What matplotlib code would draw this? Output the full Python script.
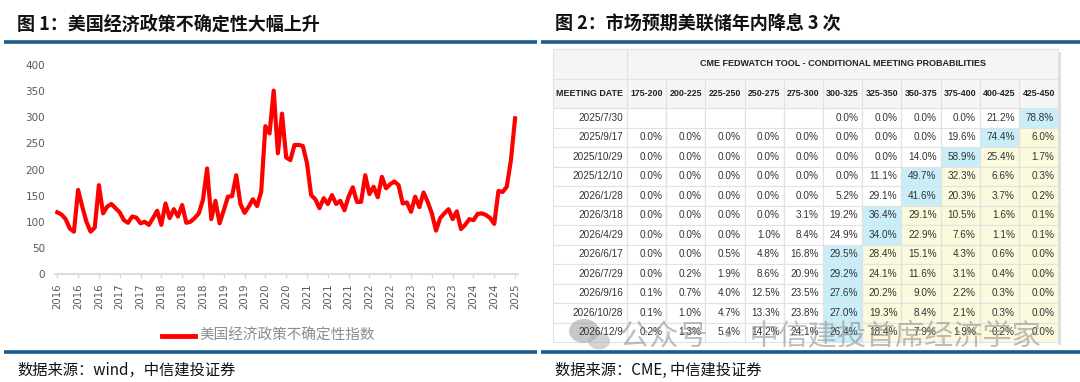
import numpy as np
import pandas as pd
import matplotlib
matplotlib.use("Agg")
import matplotlib.pyplot as plt
from matplotlib.patches import Rectangle, Ellipse

plt.rcParams['font.family'] = ['Noto Sans CJK SC', 'DejaVu Sans']

# US economic policy uncertainty index, monthly from 2016-01
epu_values = [118, 114, 105, 87, 81, 161, 129, 100, 81, 89,
              170, 116, 129, 134, 126, 118, 103, 98, 110, 108,
              97, 100, 94, 107, 121, 94, 135, 107, 124, 110,
              132, 98, 100, 107, 116, 142, 202, 105, 140, 97,
              122, 148, 149, 189, 134, 117, 129, 143, 130, 158,
              283, 269, 351, 231, 307, 223, 218, 247, 247, 245,
              212, 151, 143, 126, 145, 134, 151, 134, 140, 122,
              148, 166, 138, 138, 189, 153, 167, 147, 186, 164,
              172, 177, 170, 135, 137, 119, 148, 128, 156, 138,
              116, 83, 107, 116, 124, 105, 120, 86, 94, 105,
              103, 115, 116, 113, 107, 96, 159, 157, 167, 218,
              298]
epu_label = "美国经济政策不确定性指数"

# CME FedWatch conditional meeting probabilities (%)
meeting_dates = ["2025/7/30", "2025/9/17", "2025/10/29", "2025/12/10", "2026/1/28",
                 "2026/3/18", "2026/4/29", "2026/6/17", "2026/7/29", "2026/9/16",
                 "2026/10/28", "2026/12/9"]
rate_ranges = ["175-200", "200-225", "225-250", "250-275", "275-300", "300-325",
               "325-350", "350-375", "375-400", "400-425", "425-450"]
N = None
probabilities = [
    [N, N, N, N, N, 0.0, 0.0, 0.0, 0.0, 21.2, 78.8],
    [0.0, 0.0, 0.0, 0.0, 0.0, 0.0, 0.0, 0.0, 19.6, 74.4, 6.0],
    [0.0, 0.0, 0.0, 0.0, 0.0, 0.0, 0.0, 14.0, 58.9, 25.4, 1.7],
    [0.0, 0.0, 0.0, 0.0, 0.0, 0.0, 11.1, 49.7, 32.3, 6.6, 0.3],
    [0.0, 0.0, 0.0, 0.0, 0.0, 5.2, 29.1, 41.6, 20.3, 3.7, 0.2],
    [0.0, 0.0, 0.0, 0.0, 3.1, 19.2, 36.4, 29.1, 10.5, 1.6, 0.1],
    [0.0, 0.0, 0.0, 1.0, 8.4, 24.9, 34.0, 22.9, 7.6, 1.1, 0.1],
    [0.0, 0.0, 0.5, 4.8, 16.8, 29.5, 28.4, 15.1, 4.3, 0.6, 0.0],
    [0.0, 0.2, 1.9, 8.6, 20.9, 29.2, 24.1, 11.6, 3.1, 0.4, 0.0],
    [0.1, 0.7, 4.0, 12.5, 23.5, 27.6, 20.2, 9.0, 2.2, 0.3, 0.0],
    [0.1, 1.0, 4.7, 13.3, 23.8, 27.0, 19.3, 8.4, 2.1, 0.3, 0.0],
    [0.2, 1.3, 5.4, 14.2, 24.1, 26.4, 18.4, 7.9, 1.9, 0.2, 0.0],
]

W, H = 1080, 382
BLUE = '#1b5a8a'
fig = plt.figure(figsize=(W / 100, H / 100), dpi=100)

# overlay in pixel coordinates for titles, rules and the table
ov = fig.add_axes([0, 0, 1, 1])
ov.set_xlim(0, W)
ov.set_ylim(H, 0)
ov.axis('off')

# ---- left: EPU line chart ----
dates = pd.date_range("2016-01-01", periods=len(epu_values), freq="MS")
x = np.arange(len(epu_values))
ax = fig.add_axes([55 / W, (H - 274) / H, 463 / W, 209 / H])
ax.patch.set_visible(False)
ax.plot(x, epu_values, color='#ff0000', lw=3, solid_joinstyle='round')
ax.set_xlim(-0.55, len(x) - 1 + 0.7)
ax.set_ylim(0, 400)
ax.set_yticks(np.arange(0, 401, 50))
ticks = x[::5]
ax.set_xticks(ticks)
ax.set_xticklabels([str(d.year) for d in dates[::5]], rotation=90,
                   fontsize=7.3, color='#595959', family='DejaVu Sans')
for lab in ax.get_yticklabels():
    lab.set_fontsize(7.5)
    lab.set_color('#595959')
    lab.set_family('DejaVu Sans')
for s in ['top', 'right', 'left']:
    ax.spines[s].set_visible(False)
ax.spines['bottom'].set_color('#d9d9d9')
ax.spines['bottom'].set_linewidth(1.3)
ax.tick_params(axis='y', length=0, pad=7)
ax.tick_params(axis='x', length=3, color='#d9d9d9', width=1, pad=4)

ov.plot([162, 195], [336, 336], color='#ff0000', lw=3.5)
ov.text(199, 336, epu_label, fontsize=10.5, color='#8c8c8c', va='center', ha='left')

# ---- titles, rules, sources ----
ov.text(17, 24, "图 1：美国经济政策不确定性大幅上升", fontsize=13, fontweight='bold',
        va='center', ha='left', color='#111111')
ov.text(555, 24, "图 2：市场预期美联储年内降息 3 次", fontsize=13, fontweight='bold',
        va='center', ha='left', color='#111111')
for x0, x1 in [(4, 537), (541, 1080)]:
    ov.plot([x0, x1], [42, 42], color=BLUE, lw=2.6, solid_capstyle='butt')
    ov.plot([x0, x1], [352, 352], color=BLUE, lw=2.6, solid_capstyle='butt')
ov.text(17, 370, "数据来源：wind，中信建投证券", fontsize=11, va='center', ha='left',
        color='#111111', style='italic')
ov.text(555, 370, "数据来源：CME, 中信建投证券", fontsize=11, va='center', ha='left',
        color='#111111', style='italic')

# ---- right: FedWatch table ----
X0, DATE_W, COL_W = 553, 74, 39.2
Y0, HDR1_H, HDR2_H, ROW_H = 49, 30, 29, 19.5
GRID = '#e2e2e2'
HDR_BG = '#f5f5f5'
CELL_BLUE = '#c8eefa'
CELL_YEL = '#fbfadc'
ncol = len(rate_ranges)
x_right = X0 + DATE_W + ncol * COL_W
y_data = Y0 + HDR1_H + HDR2_H
y_bottom = y_data + len(meeting_dates) * ROW_H

# shadow
ov.add_patch(Rectangle((x_right, Y0 + 3), 3, y_bottom - Y0, color='#d0d0d0', lw=0, alpha=0.7))
ov.add_patch(Rectangle((X0, Y0), x_right - X0, HDR1_H + HDR2_H, facecolor=HDR_BG,
                       edgecolor=GRID, lw=0.8))
ov.plot([X0, x_right], [Y0 + HDR1_H] * 2, color=GRID, lw=0.8)
ov.plot([X0 + DATE_W] * 2, [Y0, y_bottom], color=GRID, lw=0.8)
ov.text((X0 + DATE_W + x_right) / 2, Y0 + HDR1_H / 2,
        "CME FEDWATCH TOOL - CONDITIONAL MEETING PROBABILITIES",
        fontsize=6.5, fontweight='bold', family='Liberation Sans', ha='center', va='center',
        color='#222222')
ov.text(X0 + DATE_W - 4, Y0 + HDR1_H + HDR2_H / 2, "MEETING DATE", fontsize=6.4,
        fontweight='bold', family='Liberation Sans', ha='right', va='center', color='#222222')
for j, rr in enumerate(rate_ranges):
    cx = X0 + DATE_W + (j + 0.5) * COL_W
    ov.text(cx, Y0 + HDR1_H + HDR2_H / 2, rr, fontsize=6.4, fontweight='bold',
            family='Liberation Sans', ha='center', va='center', color='#222222')
    if j > 0:
        ov.plot([X0 + DATE_W + j * COL_W] * 2, [Y0 + HDR1_H, y_bottom], color=GRID, lw=0.8)

for i, (d, row) in enumerate(zip(meeting_dates, probabilities)):
    ry = y_data + i * ROW_H
    vals = [v if v is not None else -1 for v in row]
    jmax = int(np.argmax(vals))
    for j, v in enumerate(row):
        cx0 = X0 + DATE_W + j * COL_W
        if j == jmax:
            fc = CELL_BLUE
        elif j > jmax:
            fc = CELL_YEL
        else:
            fc = 'white'
        ov.add_patch(Rectangle((cx0, ry), COL_W, ROW_H, facecolor=fc, edgecolor=GRID, lw=0.8))
        if v is not None:
            ov.text(cx0 + COL_W - 4, ry + ROW_H / 2, f"{v:.1f}%", fontsize=7.2,
                    family='Liberation Sans', ha='right', va='center', color='#333333')
    ov.add_patch(Rectangle((X0, ry), DATE_W, ROW_H, facecolor='white', edgecolor=GRID, lw=0.8))
    ov.text(X0 + DATE_W - 4, ry + ROW_H / 2, d, fontsize=7.2, family='Liberation Sans',
            ha='right', va='center', color='#333333')

# watermark
ov.add_patch(Ellipse((584, 331), 30, 24, color='#9a9a9a', alpha=0.55, lw=0))
ov.add_patch(Ellipse((599, 341), 22, 17, color='#b0b0b0', alpha=0.55, lw=0))
ov.text(620, 336, "公众号 · 中信建投首席经济学家", fontsize=21, color='#8a8a8a', alpha=0.55,
        ha='left', va='center')

fig.savefig("out.png", dpi=100)
